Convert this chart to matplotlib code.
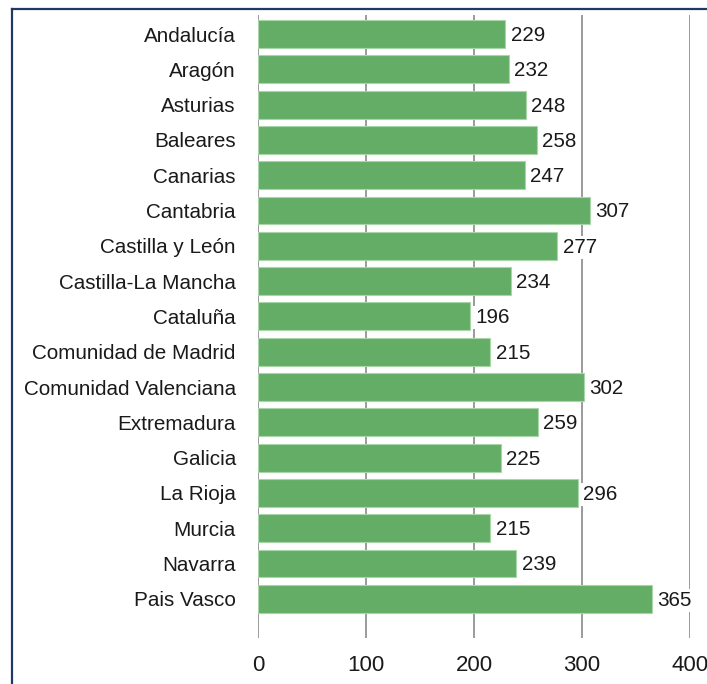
import matplotlib
matplotlib.use("Agg")
import matplotlib.pyplot as plt
from matplotlib.lines import Line2D

regions = [
    "Andalucía", "Aragón", "Asturias", "Baleares", "Canarias", "Cantabria",
    "Castilla y León", "Castilla-La Mancha", "Cataluña", "Comunidad de Madrid",
    "Comunidad Valenciana", "Extremadura", "Galicia", "La Rioja", "Murcia",
    "Navarra", "Pais Vasco",
]
values = [229, 232, 248, 258, 247, 307, 277, 234, 196, 215, 302, 259, 225, 296, 215, 239, 365]
x_ticks = [0, 100, 200, 300, 400]

W, H = 707, 684
plt.rcParams["font.family"] = ["Liberation Sans", "DejaVu Sans"]
text_color = "#1a1a1a"
bar_color = "#64ad67"
grid_color = "#808080"

fig = plt.figure(figsize=(W / 100, H / 100), dpi=100)
fig.patch.set_facecolor("white")

left_px, right_px, top_px, bottom_px = 258, 690, 15, 638
ax = fig.add_axes([left_px / W, 1 - bottom_px / H,
                   (right_px - left_px) / W, (bottom_px - top_px) / H])

pos = list(range(len(regions)))
ax.barh(pos, values, height=0.79, color=bar_color, edgecolor="#a9d6a9",
        linewidth=0.8, zorder=3)

for x in x_ticks:
    ax.axvline(x, color=grid_color, linewidth=1.1, zorder=1)

for p, v in zip(pos, values):
    ax.text(v + 5, p + 0.04, str(v), va="center", ha="left", fontsize=14.9,
            color=text_color, zorder=4,
            bbox=dict(boxstyle="square,pad=0.1", facecolor="white",
                      edgecolor="none"))

ax.set_xlim(0, 400)
ax.set_ylim(17.11, -0.54)
ax.set_yticks(pos)
ax.set_yticklabels(regions, fontsize=14.9, color=text_color)
ax.set_xticks(x_ticks)
ax.set_xticklabels([str(t) for t in x_ticks], fontsize=16, color=text_color)
ax.tick_params(axis="y", length=0, pad=16)
ax.tick_params(axis="x", length=0, pad=12)
for s in ax.spines.values():
    s.set_visible(False)
ax.set_facecolor("none")

# outer frame (left and top edges)
frame_color = "#1f3864"
fx = 11.5 / W
fy = 1 - 8.5 / H
fig.add_artist(Line2D([fx, fx], [0, fy], transform=fig.transFigure,
                      color=frame_color, linewidth=1.6))
fig.add_artist(Line2D([fx, 1], [fy, fy], transform=fig.transFigure,
                      color=frame_color, linewidth=1.6))

fig.savefig("out.png", dpi=100)
